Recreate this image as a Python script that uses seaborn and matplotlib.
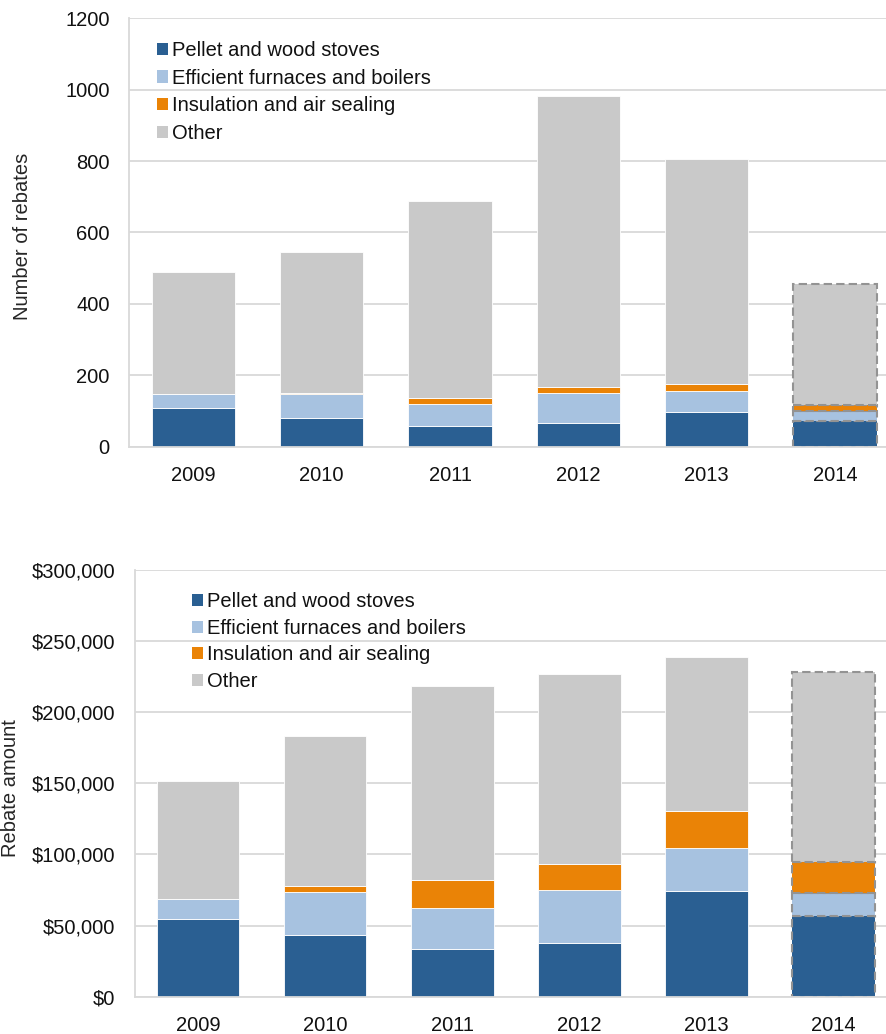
import matplotlib
matplotlib.use("Agg")
import matplotlib.pyplot as plt
from matplotlib.patches import Patch
from matplotlib.ticker import StrMethodFormatter, MultipleLocator
import seaborn as sns

# Program years
years = ["2009", "2010", "2011", "2012", "2013", "2014"]

# Number of rebates per measure
stoves_count = [109, 81, 59, 66, 98, 73]
furnaces_count = [40, 68, 62, 84, 58, 26]
insulation_count = [0, 1, 16, 16, 21, 18]
other_count = [340, 396, 550, 816, 630, 338]

# Rebate dollars per measure
stoves_amount = [54600, 43400, 33500, 37800, 74500, 57000]
furnaces_amount = [14300, 30200, 28700, 37000, 30300, 15800]
insulation_amount = [0, 4000, 19800, 18700, 25800, 22100]
other_amount = [82900, 105400, 136700, 133500, 108400, 133600]

labels = ["Pellet and wood stoves", "Efficient furnaces and boilers",
          "Insulation and air sealing", "Other"]
colors = ["#2A5F92", "#A7C2E0", "#EA8306", "#C9C9C9"]

sns.set_theme(style="white")
plt.rcParams["font.family"] = ["Liberation Sans", "DejaVu Sans"]
plt.rcParams["text.color"] = "#111111"

FS = 14.5
GRID = "#D9D9D9"

fig = plt.figure(figsize=(8.86, 10.34), dpi=100)
ax_top = fig.add_axes([129.3 / 886, 1 - 446.7 / 1034, (899 - 129.3) / 886, 428.4 / 1034])
ax_bot = fig.add_axes([134.5 / 886, 1 - 996.7 / 1034, (897 - 134.5) / 886, 426.7 / 1034])


def stacked(ax, series):
    base = [0] * len(years)
    for vals, col in zip(series, colors):
        n_before = len(ax.patches)
        sns.barplot(x=years, y=vals, bottom=base, color=col, width=0.65,
                    order=years, ax=ax, saturation=1, edgecolor="white",
                    linewidth=0.6)
        new = ax.patches[n_before:]
        # the latest year is partial: outline its segments with dashes
        last = new[-1]
        last.set_edgecolor("#939393")
        last.set_linestyle((0, (4, 2)))
        last.set_linewidth(1.5)
        base = [b + v for b, v in zip(base, vals)]


stacked(ax_top, [stoves_count, furnaces_count, insulation_count, other_count])
stacked(ax_bot, [stoves_amount, furnaces_amount, insulation_amount, other_amount])

ax_top.set_ylim(0, 1200)
ax_top.yaxis.set_major_locator(MultipleLocator(200))
ax_bot.set_ylim(0, 300000)
ax_bot.yaxis.set_major_locator(MultipleLocator(50000))
ax_bot.yaxis.set_major_formatter(StrMethodFormatter("${x:,.0f}"))

for ax in (ax_top, ax_bot):
    ax.set_xlim(-0.5, 5.5)
    ax.set_axisbelow(True)
    ax.yaxis.grid(True, color=GRID, linewidth=1.3)
    ax.xaxis.grid(False)
    for side in ("top", "right"):
        ax.spines[side].set_visible(False)
    for side in ("left", "bottom"):
        ax.spines[side].set_color(GRID)
        ax.spines[side].set_linewidth(1.3)
    ax.tick_params(axis="both", length=0, labelsize=FS, colors="#111111")
    ax.tick_params(axis="y", pad=14)
    ax.tick_params(axis="x", pad=14)
    ax.set_xlabel("")

ax_top.set_ylabel("Number of rebates", fontsize=FS)
ax_bot.set_ylabel("Rebate amount", fontsize=FS)
ax_top.yaxis.set_label_coords((32 - 129.3) / 769.7, 0.49)
ax_bot.yaxis.set_label_coords((20 - 134.5) / 762.5, 0.49)

handles = [Patch(facecolor=c, edgecolor="none") for c in colors]
leg_kw = dict(frameon=False, fontsize=FS, handlelength=0.55, handleheight=0.55,
              handletextpad=0.2, borderpad=0, borderaxespad=0,
              loc="upper left")
ax_top.legend(handles, labels, bbox_to_anchor=(0.036, 0.947), labelspacing=0.43, **leg_kw)
ax_bot.legend(handles, labels, bbox_to_anchor=(0.0754, 0.948), labelspacing=0.38, **leg_kw)

fig.savefig("out.png", dpi=100)
